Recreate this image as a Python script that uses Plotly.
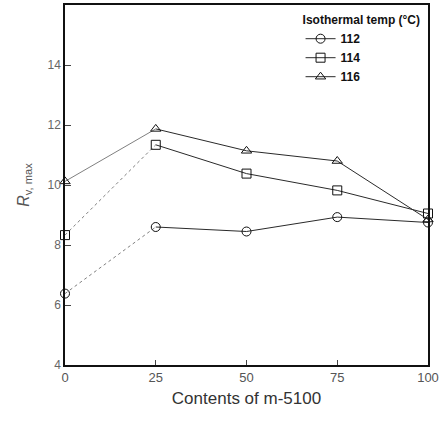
import plotly.graph_objects as go

contents = [0, 25, 50, 75, 100]
r_112 = [6.38, 8.6, 8.45, 8.93, 8.75]
r_114 = [8.33, 11.34, 10.38, 9.82, 9.05]
r_116 = [10.12, 11.87, 11.14, 10.8, 8.85]
series_names = ["112", "114", "116"]
symbols = ["circle-open", "square-open", "triangle-up-open"]
x_ticks = [0, 25, 50, 75, 100]
y_ticks = [4, 6, 8, 10, 12, 14, 16]

fig = go.Figure()
line_col = "#2a2a2a"
for name, ys, sym, first_dash in zip(series_names, [r_112, r_114, r_116], symbols,
                                     ["dot", "dot", "solid"]):
    mk = dict(symbol=sym, size=9, color="#111111", line=dict(width=1))
    # first segment (0 -> 25), lighter in the reference
    fig.add_trace(go.Scatter(x=contents[:2], y=ys[:2], mode="lines",
                             line=dict(color="#808080", width=1, dash=first_dash),
                             showlegend=False, hoverinfo="skip", cliponaxis=False))
    # remaining segments with markers (legend entry)
    fig.add_trace(go.Scatter(x=contents[1:], y=ys[1:], mode="lines+markers", name=name,
                             line=dict(color=line_col, width=1), marker=mk,
                             cliponaxis=False))
    # marker at 0
    fig.add_trace(go.Scatter(x=contents[:1], y=ys[:1], mode="markers", marker=mk,
                             showlegend=False, hoverinfo="skip", cliponaxis=False))

fig.update_layout(
    width=443, height=436,
    margin=dict(l=65, r=15, t=3, b=71),
    paper_bgcolor="white", plot_bgcolor="white",
    font=dict(family="Liberation Sans, Arial, sans-serif", color="#333333"),
    showlegend=True,
    legend=dict(x=0.985, y=0.99, xanchor="right", yanchor="top",
                bgcolor="rgba(0,0,0,0)",
                title=dict(text="<b>Isothermal temp (°C)</b>", side="top",
                           font=dict(size=12, color="#111111")),
                font=dict(size=12, color="#111111", weight="bold"),
                tracegroupgap=0),
    xaxis=dict(range=[0, 100], tickvals=x_ticks, ticks="inside", ticklen=5,
               showgrid=False, zeroline=False, showline=True, linecolor="#111111",
               linewidth=1.5, mirror=True,
               tickfont=dict(size=13, color="#555555"),
               title=dict(text="Contents of m-5100", font=dict(size=17, color="#333333"),
                          standoff=8)),
    yaxis=dict(range=[4, 16], tickvals=y_ticks, ticks="inside", ticklen=6,
               showgrid=False, zeroline=False, showline=True, linecolor="#111111",
               linewidth=1.5, mirror=True,
               tickfont=dict(size=12, color="#666666"),
               title=dict(text="<i>R</i><sub>v, max</sub>", font=dict(size=16, color="#555555"),
                          standoff=14)),
)
fig.add_annotation(text="(a)", x=0.5, y=0, xref="paper", yref="paper",
                   yshift=-70, showarrow=False, yanchor="top",
                   font=dict(size=14, color="#444444"))
fig.write_html("out.html")
